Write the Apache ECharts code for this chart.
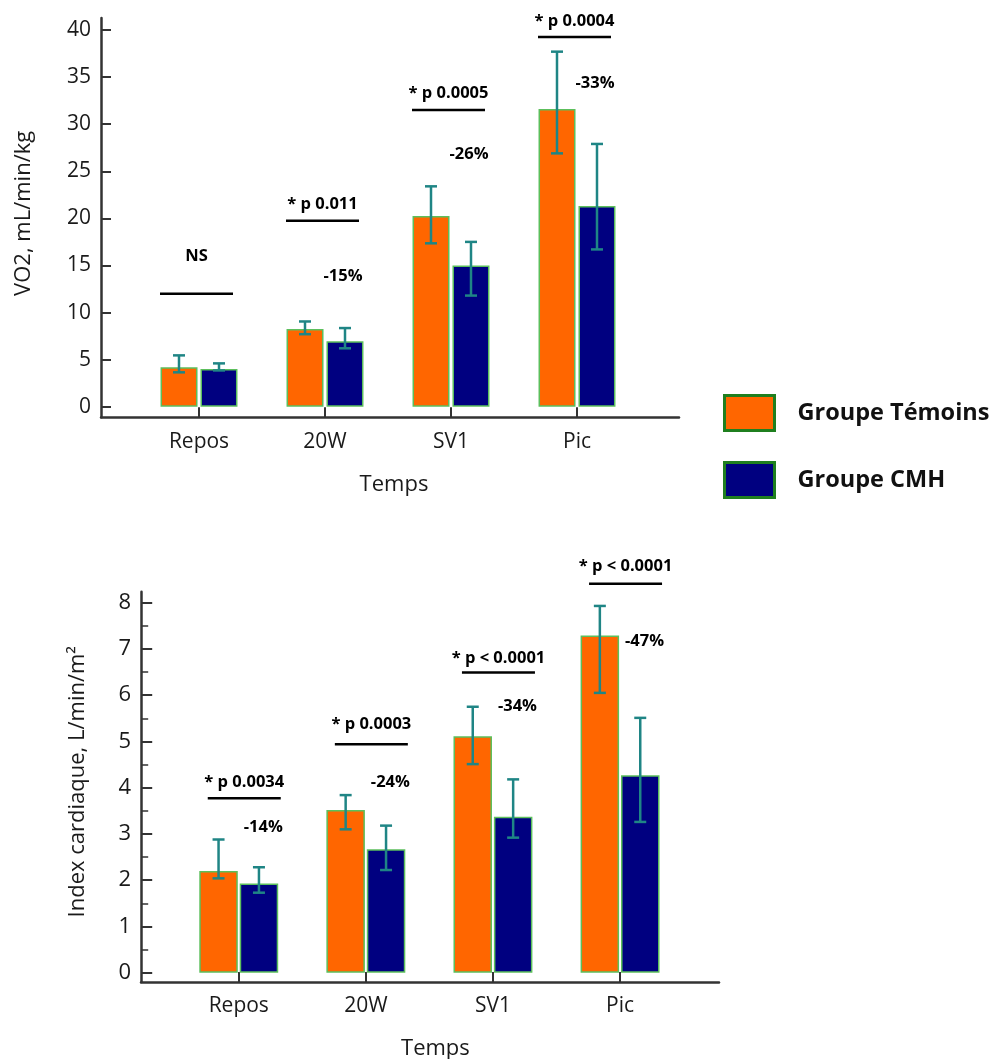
<!DOCTYPE html>
<html>
<head>
<meta charset="utf-8">
<script src="https://cdn.jsdelivr.net/npm/echarts@6/dist/echarts.min.js"></script>
<style>
html,body{margin:0;padding:0;background:#fff;}
#main{width:1000px;height:1059px;}
</style>
</head>
<body>
<div id="main"></div>
<script>
// ---------- data ----------
const categories = ['Repos', '20W', 'SV1', 'Pic'];
const seriesNames = ['Groupe Témoins', 'Groupe CMH'];

// VO2 (mL/min/kg)
const vo2Temoins     = [4.2, 8.25, 20.25, 31.6];
const vo2TemoinsLow  = [3.65, 7.7, 17.35, 26.9];
const vo2TemoinsHigh = [5.45, 9.05, 23.4, 37.7];
const vo2Cmh         = [4.0, 6.95, 15.0, 21.3];
const vo2CmhLow      = [3.85, 6.2, 11.8, 16.7];
const vo2CmhHigh     = [4.6, 8.35, 17.5, 27.9];
const vo2SigText      = ['NS', '* p 0.011', '* p 0.0005', '* p 0.0004'];
const vo2SigLevel     = [12, 19.75, 31.5, 39.25];
const vo2SigTextLevel = [16.0, 21.5, 33.3, 40.9];
const vo2PctText      = ['', '-15%', '-26%', '-33%'];
const vo2PctLevel     = [null, 13.8, 26.8, 34.3];
const vo2Ticks = {min: 0, max: 40, interval: 5};

// Index cardiaque (L/min/m²)
const icTemoins     = [2.2, 3.52, 5.11, 7.29];
const icTemoinsLow  = [2.04, 3.1, 4.51, 6.05];
const icTemoinsHigh = [2.88, 3.84, 5.75, 7.93];
const icCmh         = [1.93, 2.67, 3.37, 4.27];
const icCmhLow      = [1.73, 2.22, 2.92, 3.26];
const icCmhHigh     = [2.28, 3.18, 4.18, 5.51];
const icSigText      = ['* p 0.0034', '* p 0.0003', '* p < 0.0001', '* p < 0.0001'];
const icSigLevel     = [3.77, 4.94, 6.49, 8.41];
const icSigTextLevel = [4.11, 5.38, 6.80, 8.79];
const icPctText      = ['-14%', '-24%', '-34%', '-47%'];
const icPctLevel     = [3.14, 4.12, 5.77, 7.17];
const icTicks = {min: 0, max: 8, interval: 1};

// ---------- styles ----------
const FONT = '"Open Sans", "Noto Sans", sans-serif';
const ORANGE = '#FF6600';
const NAVY = '#000080';
const BAR_BORDER = '#5cbf5c';
const ERR = '#1f8585';
const AXIS = '#333333';
const TXT = '#1a1a1a';

function errRender(low, high, off) {
  return function (params, api) {
    const i = params.dataIndex;
    const a = api.coord([i, low[i]]);
    const b = api.coord([i, high[i]]);
    const x = a[0] + off;
    const cw = 6;
    const st = {stroke: ERR, lineWidth: 2.5};
    return {
      type: 'group',
      children: [
        {type: 'line', shape: {x1: x, y1: a[1], x2: x, y2: b[1]}, style: st},
        {type: 'line', shape: {x1: x - cw, y1: a[1], x2: x + cw, y2: a[1]}, style: st},
        {type: 'line', shape: {x1: x - cw, y1: b[1], x2: x + cw, y2: b[1]}, style: st}
      ]
    };
  };
}

function annRender(sigText, sigLevel, sigTextLevel, pctText, pctLevel, lx0, lx1, pctDx) {
  return function (params, api) {
    const i = params.dataIndex;
    const l = api.coord([i, sigLevel[i]]);
    const t = api.coord([i, sigTextLevel[i]]);
    const cx = l[0] + (lx0 + lx1) / 2;
    const font = 'bold 16.5px ' + FONT;
    const ch = [
      {type: 'line', shape: {x1: l[0] + lx0, y1: l[1], x2: l[0] + lx1, y2: l[1]},
       style: {stroke: '#000', lineWidth: 2.5}},
      {type: 'text', style: {text: sigText[i], x: cx, y: t[1], align: 'center', verticalAlign: 'middle',
        textAlign: 'center', textVerticalAlign: 'middle', font: font, fill: '#000'}}
    ];
    if (pctText[i] && pctLevel[i] != null) {
      const p = api.coord([i, pctLevel[i]]);
      ch.push({type: 'text', style: {text: pctText[i], x: p[0] + pctDx, y: p[1], align: 'center',
        verticalAlign: 'middle', textAlign: 'center', textVerticalAlign: 'middle',
        font: font, fill: '#000'}});
    }
    return {type: 'group', children: ch};
  };
}

function frameAxes(gridIndex) {
  return {
    x: {type: 'value', gridIndex, min: 0, max: 1, show: true,
        axisLine: {show: true, onZero: false, lineStyle: {color: AXIS, width: 2.5}},
        axisTick: {show: false}, axisLabel: {show: false}, splitLine: {show: false}},
    y: {type: 'value', gridIndex, min: 0, max: 1, show: true,
        axisLine: {show: true, onZero: false, lineStyle: {color: AXIS, width: 2.5}},
        axisTick: {show: false}, axisLabel: {show: false}, splitLine: {show: false}}
  };
}
const f1 = frameAxes(1), f3 = frameAxes(3);

const barBase = {
  type: 'bar',
  itemStyle: {borderColor: BAR_BORDER, borderWidth: 1.5},
  emphasis: {disabled: true}
};

const option = {
  animation: false,
  backgroundColor: '#ffffff',
  textStyle: {fontFamily: FONT},
  legend: {
    data: seriesNames,
    orient: 'vertical',
    left: 723, top: 394,
    itemWidth: 50, itemHeight: 35, itemGap: 29,
    icon: 'rect',
    padding: 0,
    itemStyle: {borderColor: '#1f7f1f', borderWidth: 3},
    textStyle: {fontFamily: FONT, fontWeight: 'bold', fontSize: 23.5, color: '#111', padding: [0, 0, 0, 18]},
    selectedMode: false
  },
  grid: [
    {left: 136, right: 360, top: 30, bottom: 652.3, outerBoundsMode: 'none', containLabel: false},
    {left: 101, right: 321, top: 18, bottom: 641.7, outerBoundsMode: 'none', containLabel: false},
    {left: 175.2, right: 316.4, top: 602.7, bottom: 86.3, outerBoundsMode: 'none', containLabel: false},
    {left: 141, right: 281, top: 591.7, bottom: 77, outerBoundsMode: 'none', containLabel: false}
  ],
  xAxis: [
    {type: 'category', gridIndex: 0, data: categories, offset: 10.6,
     axisLine: {show: false, onZero: false},
     axisTick: {show: true, inside: true, length: 10, alignWithLabel: true, lineStyle: {color: AXIS, width: 2}},
     axisLabel: {fontSize: 21, color: TXT, margin: 14, fontFamily: FONT},
     name: 'Temps', nameLocation: 'middle', nameGap: 56,
     nameTextStyle: {fontSize: 22, color: TXT, fontFamily: FONT, padding: [0, 0, 0, 12]}},
    f1.x,
    {type: 'category', gridIndex: 2, data: categories, offset: 9.3,
     axisLine: {show: false, onZero: false},
     axisTick: {show: true, inside: true, length: 10, alignWithLabel: true, lineStyle: {color: AXIS, width: 2}},
     axisLabel: {fontSize: 21, color: TXT, margin: 14, fontFamily: FONT},
     name: 'Temps', nameLocation: 'middle', nameGap: 56,
     nameTextStyle: {fontSize: 22, color: TXT, fontFamily: FONT, padding: [0, 0, 0, 12]}},
    f3.x
  ],
  yAxis: [
    {type: 'value', gridIndex: 0, min: vo2Ticks.min, max: vo2Ticks.max, interval: vo2Ticks.interval, offset: 35,
     axisLine: {show: false, onZero: false},
     axisTick: {show: true, inside: true, length: 10, lineStyle: {color: AXIS, width: 2}},
     axisLabel: {fontSize: 21, color: TXT, margin: 10, fontFamily: FONT},
     splitLine: {show: false},
     name: 'VO2, mL/min/kg', nameLocation: 'middle', nameGap: 66,
     nameTextStyle: {fontSize: 22, color: TXT, fontFamily: FONT, padding: [0, 0, 0, 10]}},
    f1.y,
    {type: 'value', gridIndex: 2, min: icTicks.min, max: icTicks.max, interval: icTicks.interval, offset: 34,
     axisLine: {show: false, onZero: false},
     axisTick: {show: true, inside: true, length: 11, lineStyle: {color: AXIS, width: 2}},
     minorTick: {show: true, splitNumber: 2, length: 7, lineStyle: {color: AXIS, width: 1.5}},
     axisLabel: {fontSize: 22, color: TXT, margin: 10, fontFamily: FONT},
     splitLine: {show: false},
     name: 'Index cardiaque, L/min/m²', nameLocation: 'middle', nameGap: 52,
     nameTextStyle: {fontSize: 22, color: TXT, fontFamily: FONT, padding: [0, 0, 0, 12]}},
    f3.y
  ],
  series: [
    Object.assign({}, barBase, {name: seriesNames[0], xAxisIndex: 0, yAxisIndex: 0, data: vo2Temoins,
      barWidth: 37, barGap: '8%', itemStyle: Object.assign({}, barBase.itemStyle, {color: ORANGE})}),
    Object.assign({}, barBase, {name: seriesNames[1], xAxisIndex: 0, yAxisIndex: 0, data: vo2Cmh,
      barWidth: 37, barGap: '8%', itemStyle: Object.assign({}, barBase.itemStyle, {color: NAVY})}),
    Object.assign({}, barBase, {name: seriesNames[0], xAxisIndex: 2, yAxisIndex: 2, data: icTemoins,
      barWidth: 38.5, barGap: '5%', itemStyle: Object.assign({}, barBase.itemStyle, {color: ORANGE})}),
    Object.assign({}, barBase, {name: seriesNames[1], xAxisIndex: 2, yAxisIndex: 2, data: icCmh,
      barWidth: 38.5, barGap: '5%', itemStyle: Object.assign({}, barBase.itemStyle, {color: NAVY})}),
    {type: 'custom', xAxisIndex: 0, yAxisIndex: 0, z: 5, clip: false, silent: true,
     data: categories.map((c, i) => [i, vo2TemoinsLow[i], vo2TemoinsHigh[i]]), encode: {x: 0, y: [1, 2]},
     renderItem: errRender(vo2TemoinsLow, vo2TemoinsHigh, -20)},
    {type: 'custom', xAxisIndex: 0, yAxisIndex: 0, z: 5, clip: false, silent: true,
     data: categories.map((c, i) => [i, vo2CmhLow[i], vo2CmhHigh[i]]), encode: {x: 0, y: [1, 2]},
     renderItem: errRender(vo2CmhLow, vo2CmhHigh, 20)},
    {type: 'custom', xAxisIndex: 2, yAxisIndex: 2, z: 5, clip: false, silent: true,
     data: categories.map((c, i) => [i, icTemoinsLow[i], icTemoinsHigh[i]]), encode: {x: 0, y: [1, 2]},
     renderItem: errRender(icTemoinsLow, icTemoinsHigh, -20.2)},
    {type: 'custom', xAxisIndex: 2, yAxisIndex: 2, z: 5, clip: false, silent: true,
     data: categories.map((c, i) => [i, icCmhLow[i], icCmhHigh[i]]), encode: {x: 0, y: [1, 2]},
     renderItem: errRender(icCmhLow, icCmhHigh, 20.2)},
    {type: 'custom', xAxisIndex: 0, yAxisIndex: 0, z: 6, clip: false, silent: true,
     data: categories.map((c, i) => [i, vo2SigLevel[i]]), encode: {x: 0, y: 1},
     renderItem: annRender(vo2SigText, vo2SigLevel, vo2SigTextLevel, vo2PctText, vo2PctLevel, -39, 34, 18)},
    {type: 'custom', xAxisIndex: 2, yAxisIndex: 2, z: 6, clip: false, silent: true,
     data: categories.map((c, i) => [i, icSigLevel[i]]), encode: {x: 0, y: 1},
     renderItem: annRender(icSigText, icSigLevel, icSigTextLevel, icPctText, icPctLevel, -31, 42, 24.5)}
  ]
};

const chart = echarts.init(document.getElementById('main'), null, {renderer: 'canvas'});
chart.setOption(option);
</script>
</body>
</html>
